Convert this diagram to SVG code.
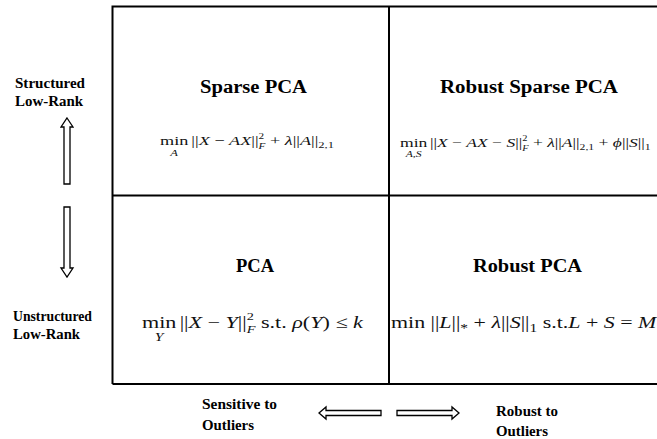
<svg xmlns="http://www.w3.org/2000/svg" width="657" height="439" viewBox="0 0 657 439">
<style>
.grid{stroke:#000;stroke-width:2;fill:none}
.t{font-family:"Liberation Serif",serif;font-weight:bold;font-size:18px;fill:#000}
.l{font-family:"Liberation Serif",serif;font-weight:bold;font-size:15px;fill:#000}
.m{font-family:"Liberation Serif","DejaVu Serif",serif;fill:#111}
.i{font-style:italic}
.arr{fill:#fff;stroke:#000;stroke-width:1.3;stroke-linejoin:miter}
</style>
<rect width="657" height="439" fill="#fff"/>
<g id="grid">
<path class="grid" d="M112.5,384 V6.5 H658 M112.5,195.5 H658 M112.5,384 H658 M389,6.5 V384"/>
</g>
<g id="sparse-pca">
<text class="t" x="200" y="93" textLength="107" lengthAdjust="spacingAndGlyphs">Sparse PCA</text>
<g class="m" transform="translate(160,145) scale(1.4,1)" font-size="13">
<text x="0" y="0">min</text>
<text x="10" y="11" font-size="9" class="i" text-anchor="middle">A</text>
<text x="22.4" y="0">||<tspan class="i">X</tspan> − <tspan class="i">AX</tspan>||<tspan font-size="8" dy="-6">2</tspan><tspan font-size="8" class="i" dx="-4" dy="10">F</tspan><tspan dy="-4"> + <tspan class="i">λ</tspan>||<tspan class="i">A</tspan>||</tspan><tspan font-size="9" dy="3">2,1</tspan></text>
</g>
</g>
<g id="robust-sparse-pca">
<text class="t" x="440" y="93" textLength="178" lengthAdjust="spacingAndGlyphs">Robust Sparse PCA</text>
<g class="m" transform="translate(400,147) scale(1.3,1)" font-size="13.5">
<text x="0" y="0">min</text>
<text x="10.5" y="10" font-size="9" class="i" text-anchor="middle">A,S</text>
<text x="23" y="0">||<tspan class="i">X</tspan> − <tspan class="i">AX</tspan> − <tspan class="i">S</tspan>||<tspan font-size="8" dy="-6">2</tspan><tspan font-size="8" class="i" dx="-4" dy="10">F</tspan><tspan dy="-4"> + <tspan class="i">λ</tspan>||<tspan class="i">A</tspan>||</tspan><tspan font-size="9" dy="3">2,1</tspan><tspan dy="-3"> + <tspan class="i">ϕ</tspan>||<tspan class="i">S</tspan>||</tspan><tspan font-size="9" dy="3">1</tspan></text>
</g>
</g>
<g id="pca">
<text class="t" x="236" y="272" textLength="38" lengthAdjust="spacingAndGlyphs">PCA</text>
<g class="m" transform="translate(142,328) scale(1.3,1)" font-size="17">
<text x="0" y="0">min</text>
<text x="13.2" y="13" font-size="12" class="i" text-anchor="middle">Y</text>
<text x="29" y="0">||<tspan class="i">X</tspan> − <tspan class="i">Y</tspan>||<tspan font-size="11" dy="-8">2</tspan><tspan font-size="11" class="i" dx="-5.5" dy="13">F</tspan><tspan dy="-5"> s.t. <tspan class="i">ρ</tspan>(<tspan class="i">Y</tspan>) ≤ <tspan class="i">k</tspan></tspan></text>
</g>
</g>
<g id="robust-pca">
<text class="t" x="473" y="272" textLength="109" lengthAdjust="spacingAndGlyphs">Robust PCA</text>
<g class="m" transform="translate(391,328) scale(1.29,1)" font-size="17">
<text x="0" y="0">min ||<tspan class="i">L</tspan>||<tspan font-size="12" dy="4">*</tspan><tspan dy="-4"> + <tspan class="i">λ</tspan>||<tspan class="i">S</tspan>||</tspan><tspan font-size="12" dy="4">1</tspan><tspan dy="-4"> s.t.<tspan class="i">L</tspan> + <tspan class="i">S</tspan> = <tspan class="i">M</tspan></tspan></text>
</g>
</g>
<g id="axis-labels">
<text class="l" x="15" y="88" textLength="70" lengthAdjust="spacingAndGlyphs">Structured</text>
<text class="l" x="15" y="106" textLength="68" lengthAdjust="spacingAndGlyphs">Low-Rank</text>
<text class="l" x="13" y="321" textLength="79" lengthAdjust="spacingAndGlyphs">Unstructured</text>
<text class="l" x="13" y="339" textLength="67" lengthAdjust="spacingAndGlyphs">Low-Rank</text>
<text class="l" x="202" y="409" textLength="75" lengthAdjust="spacingAndGlyphs">Sensitive to</text>
<text class="l" x="202" y="430" textLength="52" lengthAdjust="spacingAndGlyphs">Outliers</text>
<text class="l" x="496" y="416" textLength="62" lengthAdjust="spacingAndGlyphs">Robust to</text>
<text class="l" x="496" y="436" textLength="52" lengthAdjust="spacingAndGlyphs">Outliers</text>
</g>
<g id="connectors">
<polygon class="arr" points="67,118 73,127 70,127 70,184 64,184 64,127 61,127"/>
<polygon class="arr" points="64,207 70,207 70,268 73,268 67,277 61,268 64,268"/>
<polygon class="arr" points="319,413 326,407 326,410.5 381,410.5 381,415.5 326,415.5 326,419"/>
<polygon class="arr" points="397,410.5 452,410.5 452,407 459,413 452,419 452,415.5 397,415.5"/>
</g>
</svg>
